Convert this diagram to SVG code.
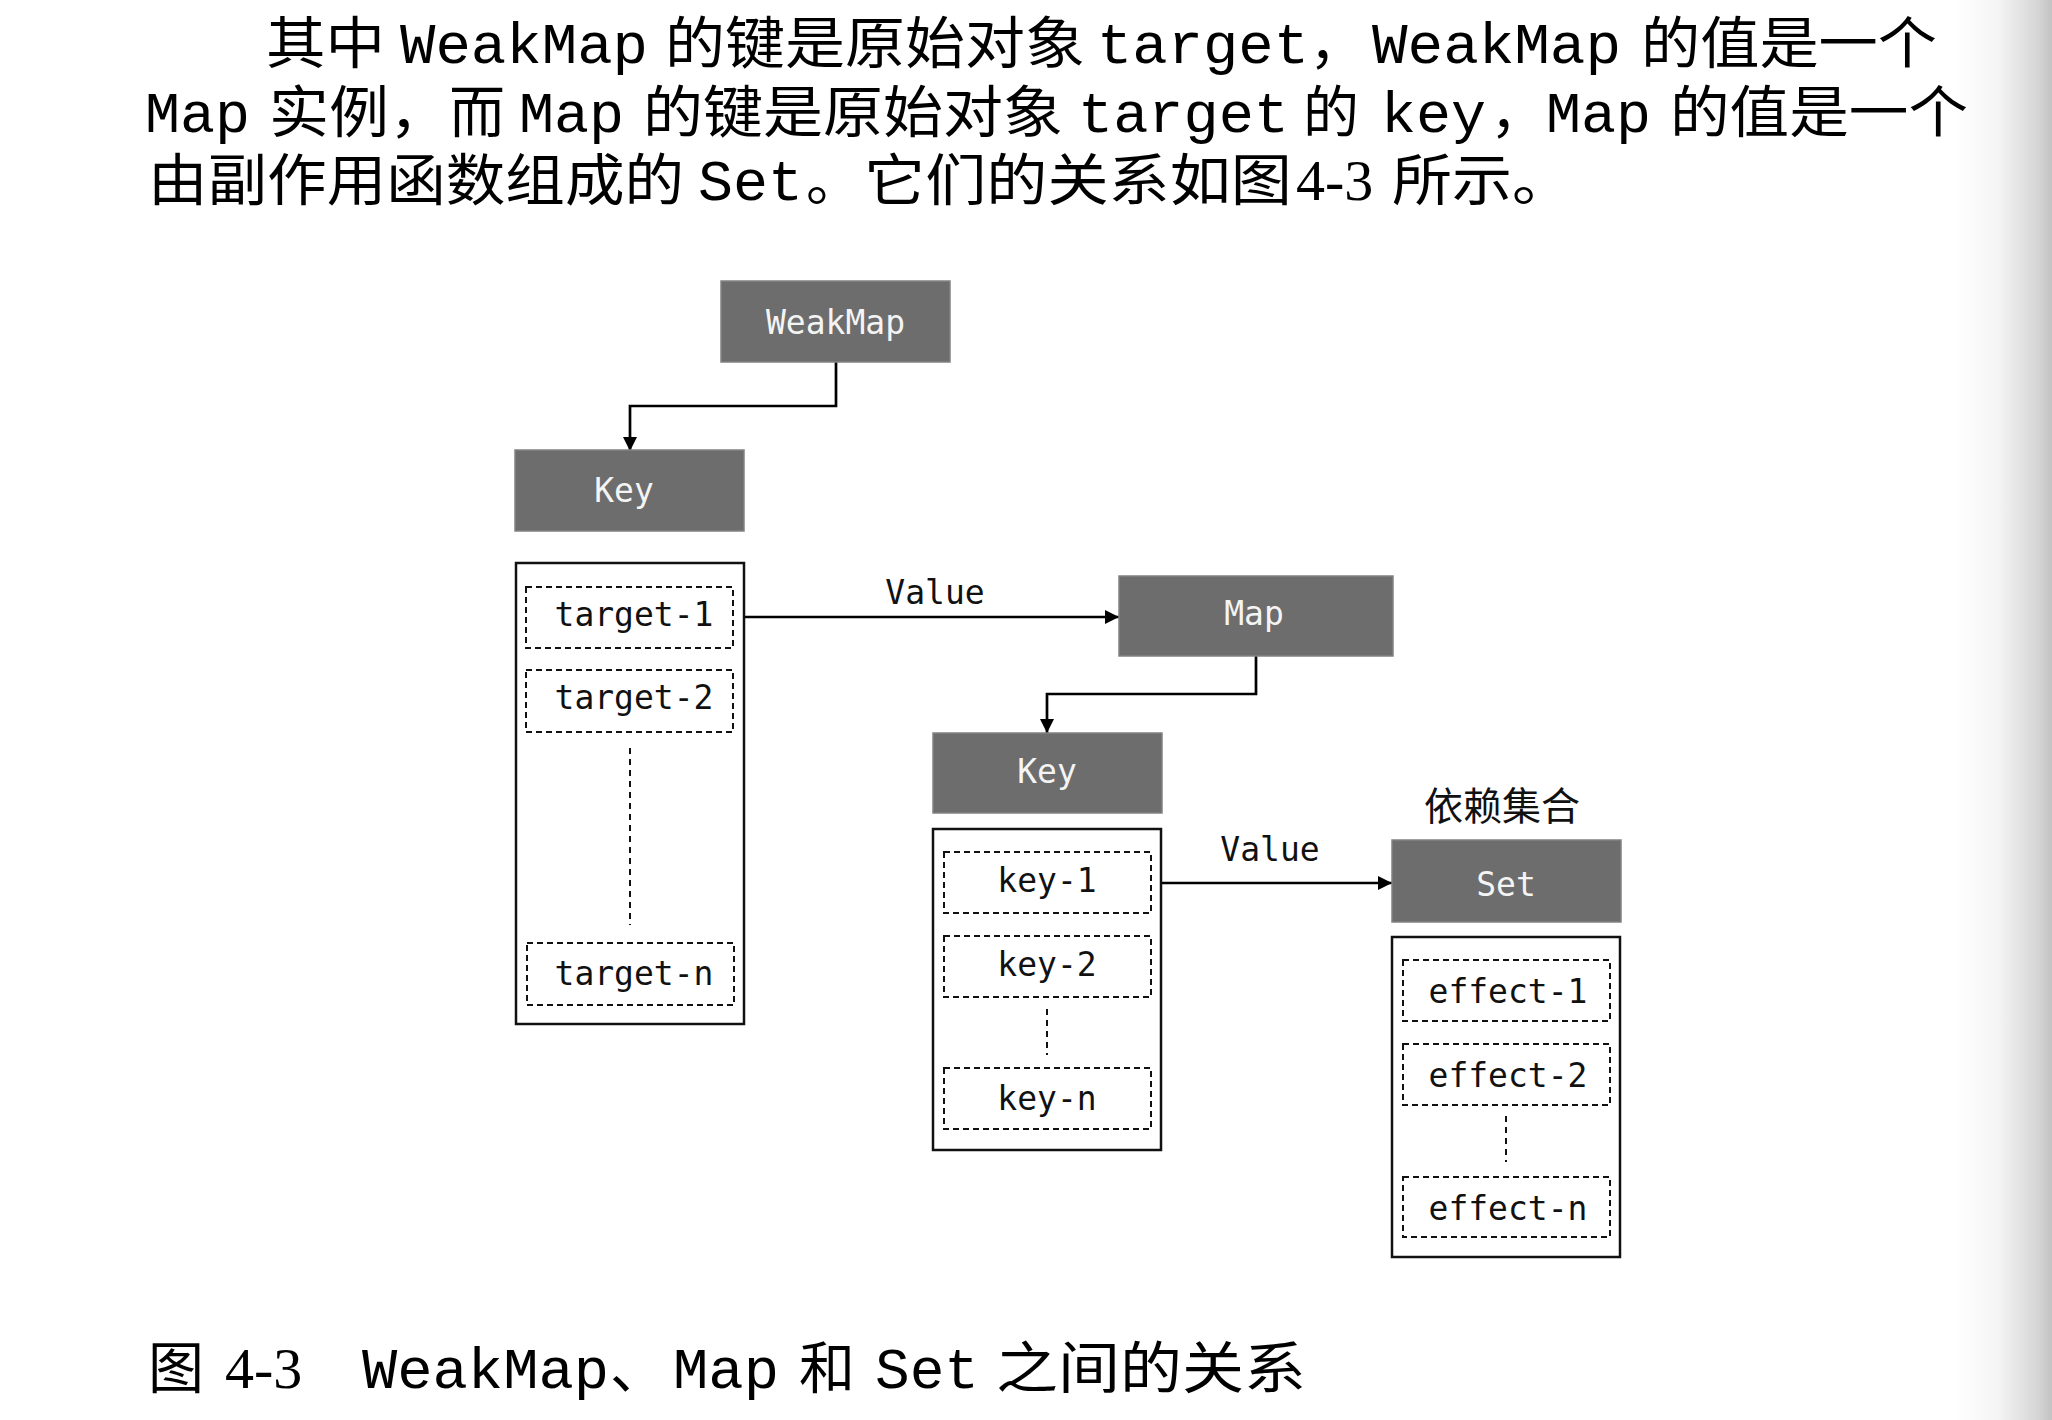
<svg xmlns="http://www.w3.org/2000/svg" width="2052" height="1420" viewBox="0 0 2052 1420">
  <defs>
    <linearGradient id="edge" x1="1955" y1="0" x2="2052" y2="0" gradientUnits="userSpaceOnUse">
      <stop offset="0" stop-color="#ffffff"/>
      <stop offset="0.45" stop-color="#f4f4f4"/>
      <stop offset="0.85" stop-color="#d6d6d6"/>
      <stop offset="1" stop-color="#c2c2c2"/>
    </linearGradient>
    <marker id="arrow" markerUnits="userSpaceOnUse" markerWidth="15" markerHeight="14" refX="14" refY="7" orient="auto">
      <path d="M0,0 L14,7 L0,14 Z" fill="#000"/>
    </marker>
  </defs>
  <style>
    .cjk { font-family: "Liberation Sans", "Noto Sans CJK SC", sans-serif; font-size: 56px; fill: #000; }
    .code { font-family: "Liberation Mono", "DejaVu Sans Mono", monospace; font-size: 58px; fill: #000; }
    .num { font-family: "Liberation Serif", "DejaVu Serif", serif; font-size: 58px; fill: #000; }
    .box { fill: #6d6d6d; stroke: #828282; stroke-width: 1.5; }
    .blabel { font-family: "DejaVu Sans Mono", "Liberation Mono", monospace; font-size: 33px; fill: #f4f4f4; text-anchor: middle; }
    .list { fill: #fff; stroke: #111; stroke-width: 2.5; }
    .item { fill: none; stroke: #111; stroke-width: 2; stroke-dasharray: 6 4; }
    .ilabel { font-family: "DejaVu Sans Mono", "Liberation Mono", monospace; font-size: 33px; fill: #111; text-anchor: middle; }
    .vdots { fill: none; stroke: #111; stroke-width: 2; stroke-dasharray: 6 5; }
    .conn { fill: none; stroke: #000; stroke-width: 2.7; marker-end: url(#arrow); }
    .clabel { font-family: "DejaVu Sans Mono", "Liberation Mono", monospace; font-size: 33px; fill: #111; text-anchor: middle; }
  </style>

  <rect x="0" y="0" width="2052" height="1420" fill="#fff"/>
  <rect x="1955" y="0" width="97" height="1420" fill="url(#edge)"/>

  <g id="paragraph">
    <text class="cjk" x="266" y="63" textLength="119" lengthAdjust="spacingAndGlyphs">其中</text>
    <text class="code" x="400" y="63" textLength="248" lengthAdjust="spacingAndGlyphs">WeakMap</text>
    <text class="cjk" x="665" y="63" textLength="420" lengthAdjust="spacingAndGlyphs">的键是原始对象</text>
    <text class="code" x="1097" y="63" textLength="212" lengthAdjust="spacingAndGlyphs">target</text>
    <text class="cjk" x="1309" y="63">，</text>
    <text class="code" x="1372" y="63" textLength="249" lengthAdjust="spacingAndGlyphs">WeakMap</text>
    <text class="cjk" x="1641" y="63" textLength="296" lengthAdjust="spacingAndGlyphs">的值是一个</text>

    <text class="code" x="145" y="132" textLength="105" lengthAdjust="spacingAndGlyphs">Map</text>
    <text class="cjk" x="269" y="132" textLength="180" lengthAdjust="spacingAndGlyphs">实例，</text>
    <text class="cjk" x="449" y="132">而</text>
    <text class="code" x="519" y="132" textLength="105" lengthAdjust="spacingAndGlyphs">Map</text>
    <text class="cjk" x="643" y="132" textLength="420" lengthAdjust="spacingAndGlyphs">的键是原始对象</text>
    <text class="code" x="1078" y="132" textLength="211" lengthAdjust="spacingAndGlyphs">target</text>
    <text class="cjk" x="1303" y="132">的</text>
    <text class="code" x="1381" y="132" textLength="105" lengthAdjust="spacingAndGlyphs">key</text>
    <text class="cjk" x="1490" y="132">，</text>
    <text class="code" x="1546" y="132" textLength="105" lengthAdjust="spacingAndGlyphs">Map</text>
    <text class="cjk" x="1670" y="132" textLength="298" lengthAdjust="spacingAndGlyphs">的值是一个</text>

    <text class="cjk" x="148" y="200" textLength="536" lengthAdjust="spacingAndGlyphs">由副作用函数组成的</text>
    <text class="code" x="698" y="200" textLength="105" lengthAdjust="spacingAndGlyphs">Set</text>
    <text class="cjk" x="806" y="200">。</text>
    <text class="cjk" x="864" y="200" textLength="428" lengthAdjust="spacingAndGlyphs">它们的关系如图</text>
    <text class="num" x="1296" y="200">4-3</text>
    <text class="cjk" x="1392" y="200" textLength="180" lengthAdjust="spacingAndGlyphs">所示。</text>
  </g>

  <g id="connectors">
    <path class="conn" d="M836,362 V406 H630 V451"/>
    <path class="conn" d="M733,617 H1119"/>
    <path class="conn" d="M1256,656 V694 H1047 V733"/>
    <path class="conn" d="M1151,883 H1392"/>
    <text class="clabel" x="935" y="604">Value</text>
    <text class="clabel" x="1270" y="861">Value</text>
  </g>

  <g id="weakmap">
    <rect class="box" x="721" y="281" width="229" height="81"/>
    <text class="blabel" x="835.5" y="334">WeakMap</text>
  </g>

  <g id="key1">
    <rect class="box" x="515" y="450" width="229" height="81"/>
    <text class="blabel" x="624" y="502">Key</text>
  </g>

  <g id="targets">
    <rect class="list" x="516" y="563" width="228" height="461"/>
    <rect class="item" x="526" y="587" width="207" height="61"/>
    <text class="ilabel" x="634" y="626">target-1</text>
    <rect class="item" x="526" y="670" width="207" height="62"/>
    <text class="ilabel" x="634" y="709">target-2</text>
    <path class="vdots" d="M630,748 V925"/>
    <rect class="item" x="527" y="943" width="207" height="62"/>
    <text class="ilabel" x="634" y="985">target-n</text>
  </g>

  <g id="map">
    <rect class="box" x="1119" y="576" width="274" height="80"/>
    <text class="blabel" x="1254" y="625">Map</text>
  </g>

  <g id="key2">
    <rect class="box" x="933" y="733" width="229" height="80"/>
    <text class="blabel" x="1047" y="783">Key</text>
  </g>

  <g id="keys">
    <rect class="list" x="933" y="829" width="228" height="321"/>
    <rect class="item" x="944" y="852" width="207" height="61"/>
    <text class="ilabel" x="1047" y="892">key-1</text>
    <rect class="item" x="944" y="936" width="207" height="61"/>
    <text class="ilabel" x="1047" y="976">key-2</text>
    <path class="vdots" d="M1047,1009 V1055"/>
    <rect class="item" x="944" y="1068" width="207" height="61"/>
    <text class="ilabel" x="1047" y="1110">key-n</text>
  </g>

  <g id="set-title">
    <text x="1502" y="820" text-anchor="middle" style="font-family: 'Noto Sans CJK SC', 'Noto Sans', sans-serif; font-size: 39px; fill: #111;">依赖集合</text>
  </g>

  <g id="set">
    <rect class="box" x="1392" y="840" width="229" height="82"/>
    <text class="blabel" x="1506" y="896">Set</text>
  </g>

  <g id="effects">
    <rect class="list" x="1392" y="937" width="228" height="320"/>
    <rect class="item" x="1403" y="960" width="207" height="61"/>
    <text class="ilabel" x="1508" y="1003">effect-1</text>
    <rect class="item" x="1403" y="1044" width="207" height="61"/>
    <text class="ilabel" x="1508" y="1087">effect-2</text>
    <path class="vdots" d="M1506,1116 V1162"/>
    <rect class="item" x="1403" y="1177" width="207" height="60"/>
    <text class="ilabel" x="1508" y="1220">effect-n</text>
  </g>

  <g id="caption">
    <text class="cjk" x="148" y="1388">图</text>
    <text class="num" x="225" y="1388">4-3</text>
    <text class="code" x="362" y="1388" textLength="247" lengthAdjust="spacingAndGlyphs">WeakMap</text>
    <text class="cjk" x="610" y="1388">、</text>
    <text class="code" x="673" y="1388" textLength="106" lengthAdjust="spacingAndGlyphs">Map</text>
    <text class="cjk" x="799" y="1388">和</text>
    <text class="code" x="875" y="1388" textLength="104" lengthAdjust="spacingAndGlyphs">Set</text>
    <text class="cjk" x="996" y="1388" textLength="310" lengthAdjust="spacingAndGlyphs">之间的关系</text>
  </g>
</svg>
